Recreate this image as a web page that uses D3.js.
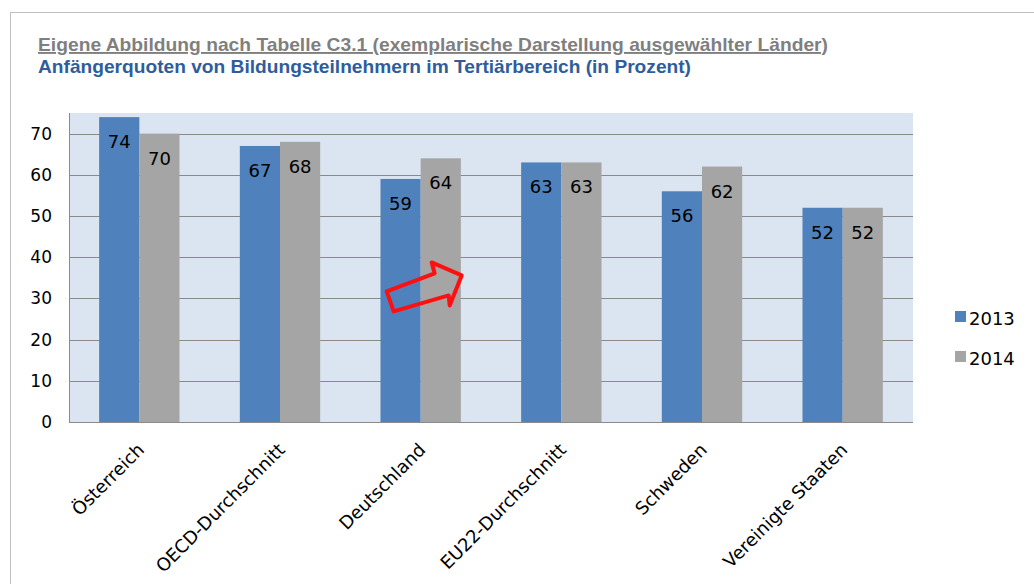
<!doctype html>
<html lang="de">
<head>
<meta charset="UTF-8">
<title>Anfängerquoten im Tertiärbereich</title>
<script src="https://cdn.jsdelivr.net/npm/d3@7"></script>
<style>
  body { margin: 0; background: #ffffff; }
  svg { display: block; }
  .title1 { font-family: "Liberation Sans Narrow", "Liberation Sans", Arial, sans-serif; font-weight: bold; font-size: 19px; fill: #7f7f7f; text-decoration: underline; }
  .title2 { font-family: "Liberation Sans Narrow", "Liberation Sans", Arial, sans-serif; font-weight: bold; font-size: 19px; fill: #2f5d9c; }
  .tick-label { font-family: "DejaVu Sans", Verdana, sans-serif; font-size: 17px; fill: #000; }
  .cat-label { font-family: "DejaVu Sans", Verdana, sans-serif; font-size: 18px; fill: #000; }
  .val-label { font-family: "DejaVu Sans", Verdana, sans-serif; font-size: 18px; fill: #000; }
  .legend-label { font-family: "DejaVu Sans", Verdana, sans-serif; font-size: 18px; fill: #000; }
</style>
</head>
<body>
<div id="chart"></div>
<script>
// data
const categories = ["Österreich", "OECD-Durchschnitt", "Deutschland", "EU22-Durchschnitt", "Schweden", "Vereinigte Staaten"];
const years = ["2013", "2014"];
const values2013 = [74, 67, 59, 63, 56, 52];
const values2014 = [70, 68, 64, 63, 62, 52];
const yTicks = [0, 10, 20, 30, 40, 50, 60, 70];
const titleLine1 = "Eigene Abbildung nach Tabelle C3.1 (exemplarische Darstellung ausgewählter Länder)";
const titleLine2 = "Anfängerquoten von Bildungsteilnehmern im Tertiärbereich (in Prozent)";

const colors = { "2013": "#4f81bd", "2014": "#a5a5a5" };
const series = { "2013": values2013, "2014": values2014 };

const W = 1034, H = 584;
const plot = { left: 69, right: 913, top: 113, bottom: 422 };

const svg = d3.select("#chart").append("svg")
    .attr("width", W)
    .attr("height", H);

// outer chart frame (runs off the right and bottom of the picture)
svg.append("rect")
    .attr("x", 10.5).attr("y", 12.5)
    .attr("width", 1100).attr("height", 700)
    .attr("fill", "#fff")
    .attr("stroke", "#bfbfbf");

// titles
svg.append("text").attr("class", "title1")
    .attr("x", 38).attr("y", 51)
    .attr("textLength", 790).attr("lengthAdjust", "spacingAndGlyphs")
    .text(titleLine1);
svg.append("text").attr("class", "title2")
    .attr("x", 38).attr("y", 73)
    .attr("textLength", 653).attr("lengthAdjust", "spacingAndGlyphs")
    .text(titleLine2);

// scales
const x = d3.scaleBand().domain(categories).range([plot.left, plot.right]);
const xInner = d3.scaleBand().domain(years).range([0, x.bandwidth()])
    .paddingInner(0).paddingOuter(0.75);
const y = d3.scaleLinear().domain([0, 75]).range([plot.bottom, plot.top]);

// plot background
svg.append("rect")
    .attr("x", plot.left).attr("y", plot.top)
    .attr("width", plot.right - plot.left).attr("height", plot.bottom - plot.top)
    .attr("fill", "#dbe5f1");

// gridlines
svg.append("g").selectAll("line")
    .data(yTicks.filter(d => d > 0))
    .join("line")
    .attr("x1", plot.left).attr("x2", plot.right)
    .attr("y1", d => Math.round(y(d)) + 0.5).attr("y2", d => Math.round(y(d)) + 0.5)
    .attr("stroke", "#8a8a8a").attr("stroke-width", 1);

// y axis labels
const yAxis = d3.axisLeft(y).tickValues(yTicks).tickSize(0).tickPadding(17);
const gy = svg.append("g").attr("transform", `translate(${plot.left},0)`).call(yAxis);
gy.select(".domain").remove();
gy.selectAll("text").attr("class", "tick-label").attr("fill", null).attr("font-size", null).attr("font-family", null);

// bars
const groups = svg.append("g").selectAll("g")
    .data(categories)
    .join("g")
    .attr("transform", d => `translate(${x(d)},0)`);

groups.selectAll("rect")
    .data((c, i) => years.map(yr => ({ year: yr, value: series[yr][i] })))
    .join("rect")
    .attr("x", d => xInner(d.year))
    .attr("y", d => y(d.value))
    .attr("width", xInner.bandwidth())
    .attr("height", d => y(0) - y(d.value))
    .attr("fill", d => colors[d.year]);

groups.selectAll("text")
    .data((c, i) => years.map(yr => ({ year: yr, value: series[yr][i] })))
    .join("text")
    .attr("class", "val-label")
    .attr("x", d => xInner(d.year) + xInner.bandwidth() / 2)
    .attr("y", d => y(d.value) + 31)
    .attr("text-anchor", "middle")
    .text(d => d.value);

// axis lines
svg.append("line")
    .attr("x1", plot.left + 0.5).attr("x2", plot.left + 0.5)
    .attr("y1", plot.top).attr("y2", plot.bottom)
    .attr("stroke", "#8a8a8a");
svg.append("line")
    .attr("x1", plot.left).attr("x2", plot.right)
    .attr("y1", plot.bottom + 0.5).attr("y2", plot.bottom + 0.5)
    .attr("stroke", "#8a8a8a");

// category labels, rotated
svg.append("g").selectAll("text")
    .data(categories)
    .join("text")
    .attr("class", "cat-label")
    .attr("text-anchor", "end")
    .attr("transform", d => `translate(${x(d) + x.bandwidth() / 2 + 6},${plot.bottom + 29}) rotate(-45)`)
    .text(d => d);

// legend
const legend = svg.append("g").attr("transform", "translate(955,311)");
legend.selectAll("g")
    .data(years)
    .join("g")
    .attr("transform", (d, i) => `translate(0,${i * 40})`)
    .each(function (d) {
        const g = d3.select(this);
        g.append("rect").attr("width", 11).attr("height", 11).attr("fill", colors[d]);
        g.append("text").attr("class", "legend-label").attr("x", 14).attr("y", 14).text(d);
    });

// red hand-drawn arrow annotation near Deutschland
const ax = x("Deutschland") + x.bandwidth() / 2, ay = y(30);
const arrowPts = [[-34, -7], [14, -25], [11, -36], [41, -23], [29, 7], [28, -3], [-27, 13]];
svg.append("path")
    .attr("d", d3.line()(arrowPts.map(p => [ax + p[0], ay + p[1]])) + "Z")
    .attr("fill", "none")
    .attr("stroke", "#ff1010")
    .attr("stroke-width", 4)
    .attr("stroke-linejoin", "round");
</script>
</body>
</html>
